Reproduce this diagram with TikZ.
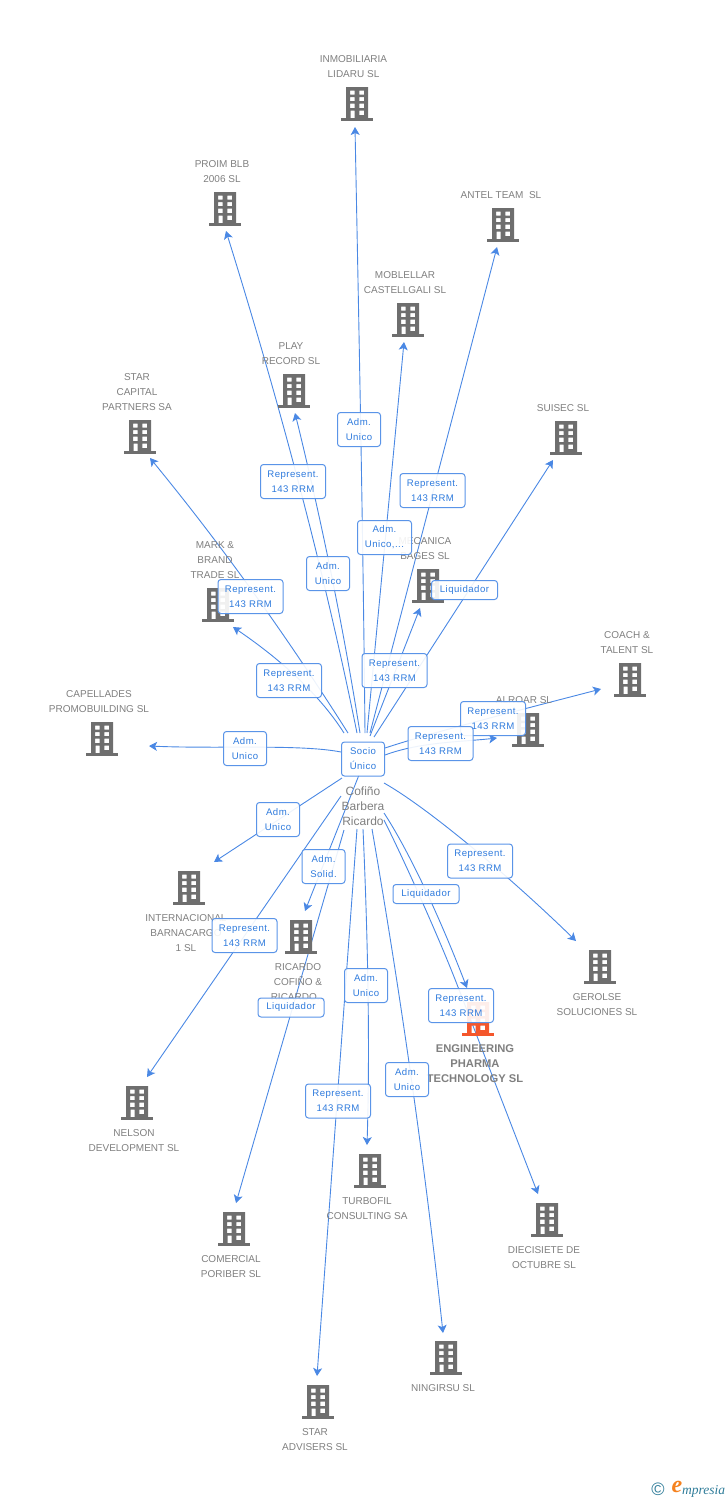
\documentclass[tikz,border=0pt]{standalone}
\usepackage{fontspec}
\setmainfont{Liberation Sans}
\newfontfamily\boxfont[LetterSpace=5]{Liberation Sans}
\newfontfamily\logofont{Liberation Serif}
\usetikzlibrary{arrows.meta}
\definecolor{edgeblue}{HTML}{4A88E4}
\definecolor{boxblue}{HTML}{5A94E8}
\definecolor{boxtext}{HTML}{2F7BDD}
\definecolor{lblgray}{HTML}{7F7F7F}
\definecolor{bldgray}{HTML}{6E6E6E}
\definecolor{bldorange}{HTML}{F4562B}
\definecolor{logoteal}{HTML}{2F7C99}
\definecolor{logoorange}{HTML}{F5821F}
\tikzset{
  edge/.style={draw=edgeblue,line width=0.9pt,-{Stealth[length=8pt,width=9pt,inset=2pt]}},
  plainedge/.style={draw=edgeblue,line width=0.9pt},
  lbl/.style={align=center,text=lblgray,font=\fontsize{10}{15}\selectfont,inner sep=0pt},
  mainlbl/.style={lbl,font=\fontsize{11.2}{15}\selectfont\bfseries},
  hublbl/.style={lbl,font=\fontsize{12}{15}\selectfont},
  tag/.style={draw=boxblue,line width=1pt,rounded corners=3pt,fill=white,fill opacity=.9,text opacity=1,
    text=boxtext,align=center,font=\boxfont\fontsize{9.6}{15}\selectfont,inner sep=0pt},
  rep/.style={tag,minimum width=65pt,minimum height=34pt},
  adm/.style={tag,minimum width=43pt,minimum height=34pt},
  liq/.style={tag,minimum width=66pt,minimum height=19pt},
  pics/bldg/.style={code={
    \fill[#1,even odd rule] (-11,-17) rectangle (11,14)
      (-7,-13.5) rectangle (-2.5,-9.5) (2.3,-13.5) rectangle (7,-9.5)
      (-7,-7) rectangle (-2.5,-2.8) (2.3,-7) rectangle (7,-2.8)
      (-7,-0.3) rectangle (-2.5,4) (2.3,-0.3) rectangle (7,4)
      (-6.5,6.5) rectangle (-2.5,14) (2.3,6.5) rectangle (7,11);
    \fill[#1] (-16,14) rectangle (16,17);
  }},
}
\begin{document}
\begin{tikzpicture}[x=1pt,y=-1pt]
\useasboundingbox (0,0) rectangle (728,1500);
% connector ends
\foreach \n/\x/\y in {
 sa/365/733,ta/355/127, sb/357/733,tb/226/231, sc/370/733,tc/497/247,
 sd/367/733,td/404/342, se/360/733,te/295/413, sf/348/733,tf/150/458,
 sg/344/733,tg/233/627, sh/370/736,th/420/608, si/374/737,ti/553/460,
 sj/385/748,tj/601/689, sk/385/755,tk/497/738, sl/341/752,tl/149/746,
 sm/342/778,tm/214/862, sn/359/775,tn/305/911, so/341/796,to/147/1077,
 sp/344/830,tp/236/1203, sq/357/829,tq/317/1376, sr/363/829,tr/367/1145,
 ss/372/829,ts/443/1333, st/384/820,tt/538/1194, su/384/783,tu/576/941,
 sv/384/813,tv/467/988, tw/458/987}
 {\coordinate (\n) at (\x,\y);}
% connectors
\draw[edge] (sa) .. controls (363,530) and (359,330) .. (ta);
\draw[edge] (sb) .. controls (323,565) and (278,398) .. (tb);
\draw[edge] (sc) -- (tc);
\draw[edge] (sd) -- (td);
\draw[edge] (se) .. controls (343,625) and (321,519) .. (te);
\draw[edge] (sf) .. controls (288,638) and (223,547) .. (tf);
\draw[edge] (sg) .. controls (318,692) and (277,657) .. (tg);
\draw[edge] (sh) -- (th);
\draw[edge] (si) -- (ti);
\draw[edge] (sj) .. controls (430,733) and (520,710) .. (tj);
\draw[edge] (sk) .. controls (420,742) and (460,742) .. (tk);
\draw[edge] (sl) .. controls (300,744) and (220,749) .. (tl);
\draw[edge] (sm) -- (tm);
\draw[edge] (sn) -- (tn);
\draw[edge] (so) -- (to);
\draw[edge] (sp) -- (tp);
\draw[edge] (sq) -- (tq);
\draw[edge] (sr) .. controls (368,940) and (370,1050) .. (tr);
\draw[edge] (ss) .. controls (401,997) and (425,1165) .. (ts);
\draw[edge] (st) .. controls (405,862) and (440,940) .. (tw) -- (tt);
\draw[edge] (su) .. controls (425,806) and (505,872) .. (tu);
\draw[edge] (sv) .. controls (405,845) and (435,905) .. (tv);
% buildings
\foreach \x/\y in {357/104,225/209,503/225,408/320,294/391,140/437,218/605,428/586,566/438,630/680,528/730,102/739,189/888,301/937,600/967,137/1103,234/1229,370/1171,547/1220,446/1358,318/1402}
 {\pic at (\x,\y) {bldg=bldgray};}
\pic at (478,1019) {bldg=bldorange};
% labels
\begin{scope}[yshift=-0.7pt]
\node[lbl] (l1) at (353.5,65.5) {INMOBILIARIA\\LIDARU SL};
\node[lbl] (l2) at (222,170.5) {PROIM BLB\\2006 SL};
\node[lbl] (l3) at (501,194) {ANTEL TEAM\ \ SL};
\node[lbl] (l4) at (405,281.5) {MOBLELLAR\\CASTELLGALI SL};
\node[lbl] (l5) at (291,352.5) {PLAY\\RECORD SL};
\node[lbl] (l6) at (137,391.5) {STAR\\CAPITAL\\PARTNERS SA};
\node[lbl] (l7) at (215,559.5) {MARK \&\\BRAND\\TRADE SL};
\node[lbl] (l8) at (425,547.5) {MECANICA\\BAGES SL};
\node[lbl] (l9) at (563,407) {SUISEC SL};
\node[lbl] (l10) at (627,641.5) {COACH \&\\TALENT SL};
\node[lbl] (l11) at (524,699) {ALROAR SL};
\node[lbl] (l12) at (99,700.5) {CAPELLADES\\PROMOBUILDING SL};
\node[lbl] (l13) at (186,932) {INTERNACIONAL\\BARNACARGO\\1 SL};
\node[lbl] (l14) at (298,981) {RICARDO\\COFIÑO \&\\RICARDO...};
\node[lbl] (l15) at (597,1003.5) {GEROLSE\\SOLUCIONES SL};
\node[lbl] (l16) at (134,1139.5) {NELSON\\DEVELOPMENT SL};
\node[lbl] (l17) at (231,1265.5) {COMERCIAL\\PORIBER SL};
\node[lbl] (l18) at (367,1207.5) {TURBOFIL\\CONSULTING SA};
\node[lbl] (l19) at (544,1256.5) {DIECISIETE DE\\OCTUBRE SL};
\node[lbl] (l20) at (443,1387) {NINGIRSU SL};
\node[lbl] (l21) at (315,1438.5) {STAR\\ADVISERS SL};
\node[mainlbl] (main) at (475,1063) {ENGINEERING\\PHARMA\\TECHNOLOGY SL};
\node[hublbl] (hublabel) at (363,805) {Cofiño\\Barbera\\Ricardo};
\end{scope}
% connector tags
\begin{scope}[yshift=-0.5pt]
\node[adm] (b1) at (359,429) {Adm.\\Unico};
\node[rep] (b2) at (293,481) {Represent.\\143 RRM};
\node[rep] (b3) at (432.5,490) {Represent.\\143 RRM};
\node[rep,minimum width=54pt,minimum height=34pt] (b4) at (384.5,537) {Adm.\\Unico,...};
\node[adm] (b5) at (328,573) {Adm.\\Unico};
\node[rep] (b6) at (250.5,596) {Represent.\\143 RRM};
\node[rep] (b7) at (289,680) {Represent.\\143 RRM};
\node[rep] (b8) at (394.5,670) {Represent.\\143 RRM};
\node[liq] (b9) at (464.5,589.5) {Liquidador};
\node[rep] (b10) at (493,718) {Represent.\\143 RRM};
\node[rep] (b11) at (440.5,743) {Represent.\\143 RRM};
\node[adm] (b12) at (245,748) {Adm.\\Unico};
\node[adm] (b13) at (278,819) {Adm.\\Unico};
\node[adm] (b14) at (323.5,866) {Adm.\\Solid.};
\node[rep] (b15) at (244.5,935) {Represent.\\143 RRM};
\node[liq] (b16) at (291,1007) {Liquidador};
\node[rep] (b17) at (338,1100.5) {Represent.\\143 RRM};
\node[adm] (b18) at (366,985) {Adm.\\Unico};
\node[adm] (b19) at (407,1079) {Adm.\\Unico};
\node[rep] (b20) at (461,1005) {Represent.\\143 RRM};
\node[rep] (b21) at (480,860.5) {Represent.\\143 RRM};
\node[liq] (b22) at (426,893.5) {Liquidador};
\node[adm] (hub) at (363,758.5) {Socio\\Único};
\end{scope}
% logo
\node[text=logoteal,inner sep=0pt,font=\fontsize{18}{18}\selectfont] (copy) at (658,1489) {©};
\node[text=logoorange,inner sep=0pt,font=\logofont\itshape\bfseries\fontsize{24}{24}\selectfont] (logoe) at (677,1487) {e};
\node[text=logoteal,inner sep=0pt,font=\logofont\itshape\fontsize{13.5}{14}\selectfont,anchor=west] (logot) at (682,1491) {mpresia};
\end{tikzpicture}
\end{document}
